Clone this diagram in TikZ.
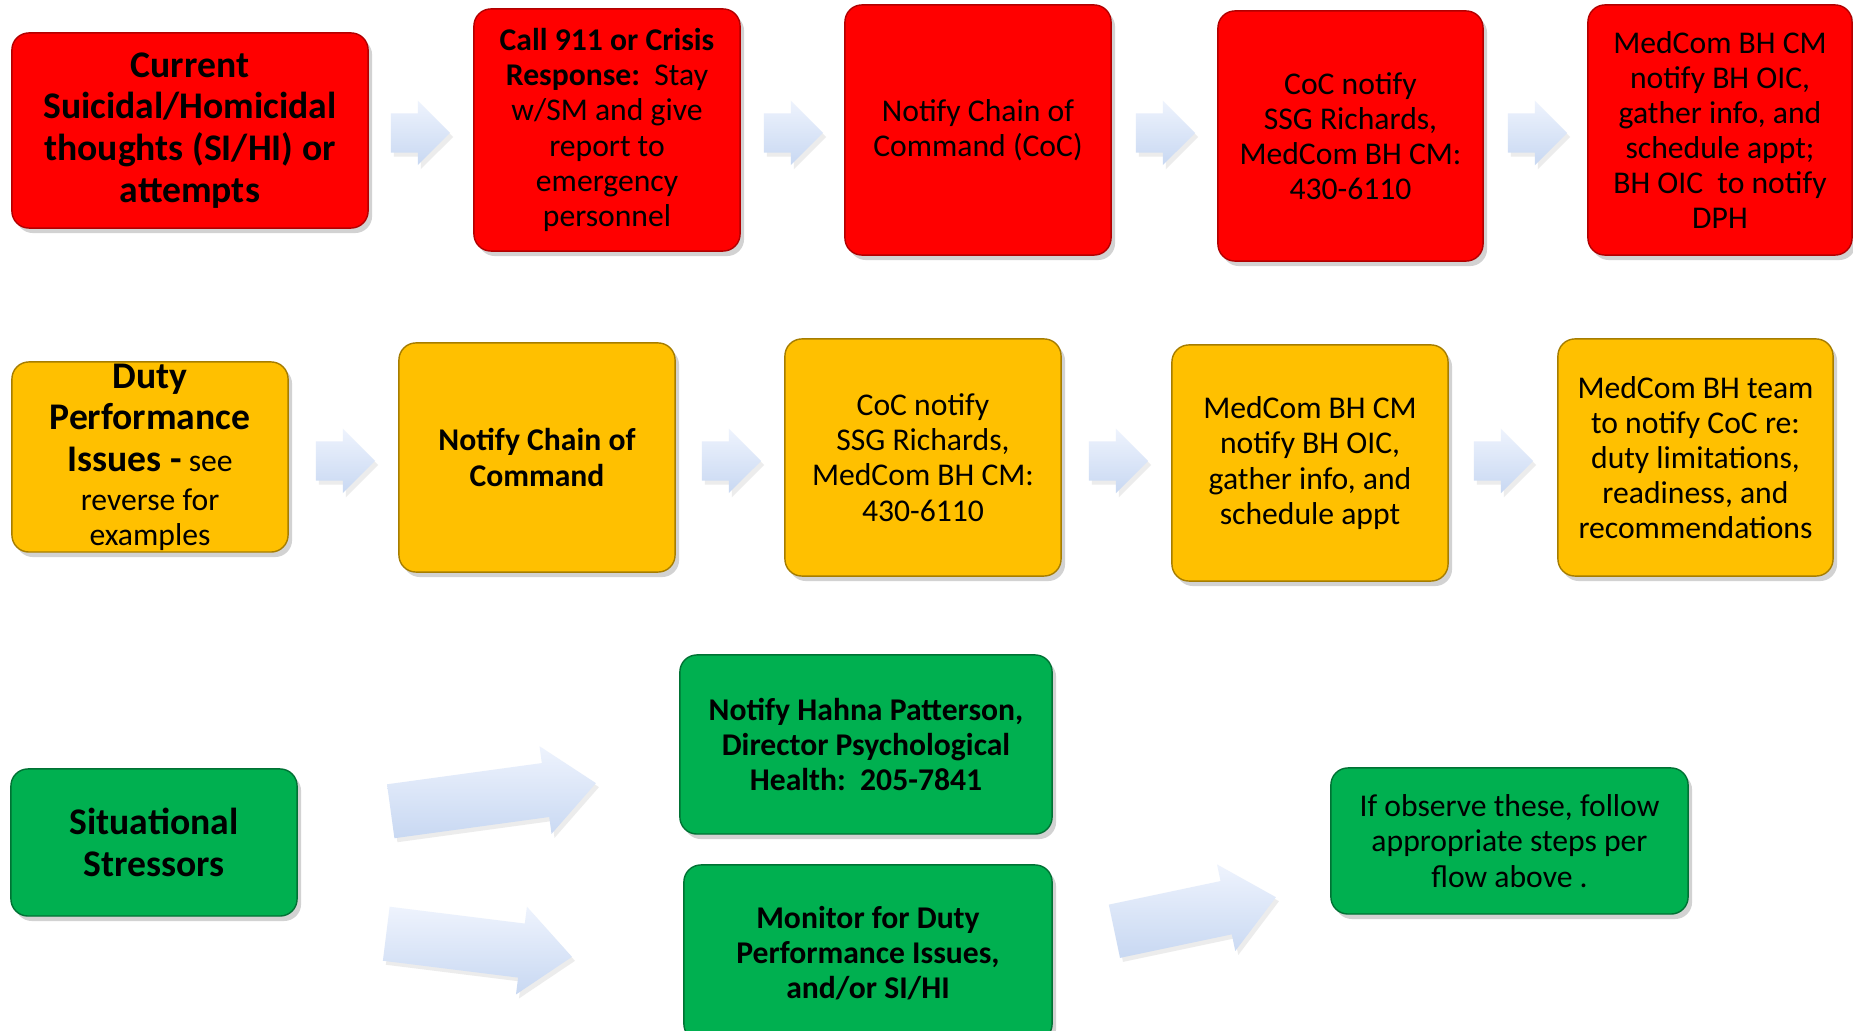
\documentclass[tikz,border=0pt]{standalone}
\usepackage{fontspec}
\setmainfont{Carlito}
\usetikzlibrary{shapes, shapes.arrows, shadows, positioning}

\definecolor{alarm}{HTML}{FF0000}
\definecolor{amber}{HTML}{FFC000}
\definecolor{calm}{HTML}{00B050}
\definecolor{arrtop}{HTML}{EEF3FD}
\definecolor{arrbot}{HTML}{C8D8F2}

\tikzset{
  box/.style={rounded corners=0.17cm, line width=0.4pt, align=center, inner sep=0pt,
    font=\fontsize{9}{10}\selectfont,
    drop shadow={shadow xshift=0.04cm, shadow yshift=-0.05cm, opacity=0.35}},
  redbox/.style={box, fill=alarm, draw=alarm!70!black},
  ambbox/.style={box, fill=amber, draw=amber!65!black},
  grnbox/.style={box, fill=calm, draw=calm!65!black},
  big/.style={font=\fontsize{10.7}{11.9}\selectfont\bfseries},
  blk/.style={single arrow, draw=none, inner xsep=0pt, inner ysep=0.19cm, anchor=tip,
    top color=arrtop, bottom color=arrbot,
    single arrow head extend=0.125cm, minimum height=0.59cm,
    drop shadow={shadow xshift=0.03cm, shadow yshift=-0.04cm, opacity=0.15}},
  wide/.style={blk, inner ysep=0.265cm, single arrow head extend=0.17cm,
    single arrow tip angle=82}
}

\begin{document}
\begin{tikzpicture}[x=0.01cm, y=-0.01cm]
\useasboundingbox (0,0) rectangle (1853,1031);
\fill[white] (0,0) rectangle (1853,1031);

\node[redbox, big, minimum width=3.56cm, minimum height=1.95cm] (cur) at (190,130.5)
  {Current\\ Suicidal/Homicidal\\ thoughts (SI/HI) or\\ attempts};
\node[redbox, minimum width=2.66cm, minimum height=2.42cm] (call) at (607,130)
  {\textbf{Call 911 or Crisis}\\ \textbf{Response:}\ \ Stay\\ w/SM and give\\ report to\\ emergency\\ personnel};
\node[redbox, minimum width=2.66cm, minimum height=2.50cm] (coc) at (978,130)
  {Notify Chain of\\ Command (CoC)};
\node[redbox, minimum width=2.65cm, minimum height=2.50cm] (ssg) at (1350.5,136)
  {CoC notify\\ SSG Richards,\\ MedCom BH CM:\\ 430-6110};
\node[redbox, minimum width=2.64cm, minimum height=2.50cm] (oic) at (1720,130)
  {MedCom BH CM\\ notify BH OIC,\\ gather info, and\\ schedule appt;\\ BH OIC\ \ to notify\\ DPH};

\node[blk] (r1) at (451,133) {};
\node[blk] (r2) at (824,133) {};
\node[blk] (r3) at (1196,133) {};
\node[blk] (r4) at (1568,133) {};

\node[ambbox, minimum width=2.76cm, minimum height=1.90cm] (duty) at (150,457)
  {{\fontsize{10.7}{11.9}\selectfont\bfseries Duty}\\[1.9pt]
   {\fontsize{10.7}{11.9}\selectfont\bfseries Performance}\\[1.9pt]
   {\fontsize{10.7}{11.9}\selectfont\bfseries Issues -} see\\[0.9pt]
   reverse for\\ examples};
\node[ambbox, minimum width=2.76cm, minimum height=2.29cm] (ncoc) at (537,457.5)
  {\textbf{Notify Chain of}\\ \textbf{Command}};
\node[ambbox, minimum width=2.76cm, minimum height=2.37cm] (ssg2) at (923,457.5)
  {CoC notify\\ SSG Richards,\\ MedCom BH CM:\\ 430-6110};
\node[ambbox, minimum width=2.76cm, minimum height=2.36cm] (oic2) at (1310,463)
  {MedCom BH CM\\ notify BH OIC,\\ gather info, and\\ schedule appt};
\node[ambbox, minimum width=2.75cm, minimum height=2.37cm] (team) at (1695.5,457.5)
  {MedCom BH team\\ to notify\ CoC re:\\ duty limitations,\\ readiness, and\\ recommendations};

\node[blk] (o1) at (376,461) {};
\node[blk] (o2) at (762,461) {};
\node[blk] (o3) at (1149,461) {};
\node[blk] (o4) at (1534,461) {};

\node[grnbox, big, minimum width=2.86cm, minimum height=1.47cm] (sit) at (154,842.5)
  {Situational\\ Stressors};
\node[grnbox, minimum width=3.72cm, minimum height=1.79cm] (hahna) at (866,744.5)
  {\textbf{Notify Hahna Patterson,}\\ \textbf{Director Psychological}\\ \textbf{Health:\ \ 205-7841}};
\node[grnbox, minimum width=3.68cm, minimum height=1.76cm] (mon) at (868,953)
  {\textbf{Monitor for Duty}\\ \textbf{Performance Issues,}\\ \textbf{and/or SI/HI}};
\node[grnbox, minimum width=3.57cm, minimum height=1.46cm] (obs) at (1509.5,841)
  {If observe these, follow\\ appropriate steps per\\ flow above .};

\node[wide, rotate=7.8, minimum height=2.07cm] (s1) at (597,783) {};
\node[wide, rotate=-7.1, minimum height=1.87cm] (s2) at (573,957) {};
\node[wide, rotate=11.9, minimum height=1.65cm] (s3) at (1277,897) {};
\end{tikzpicture}
\end{document}
